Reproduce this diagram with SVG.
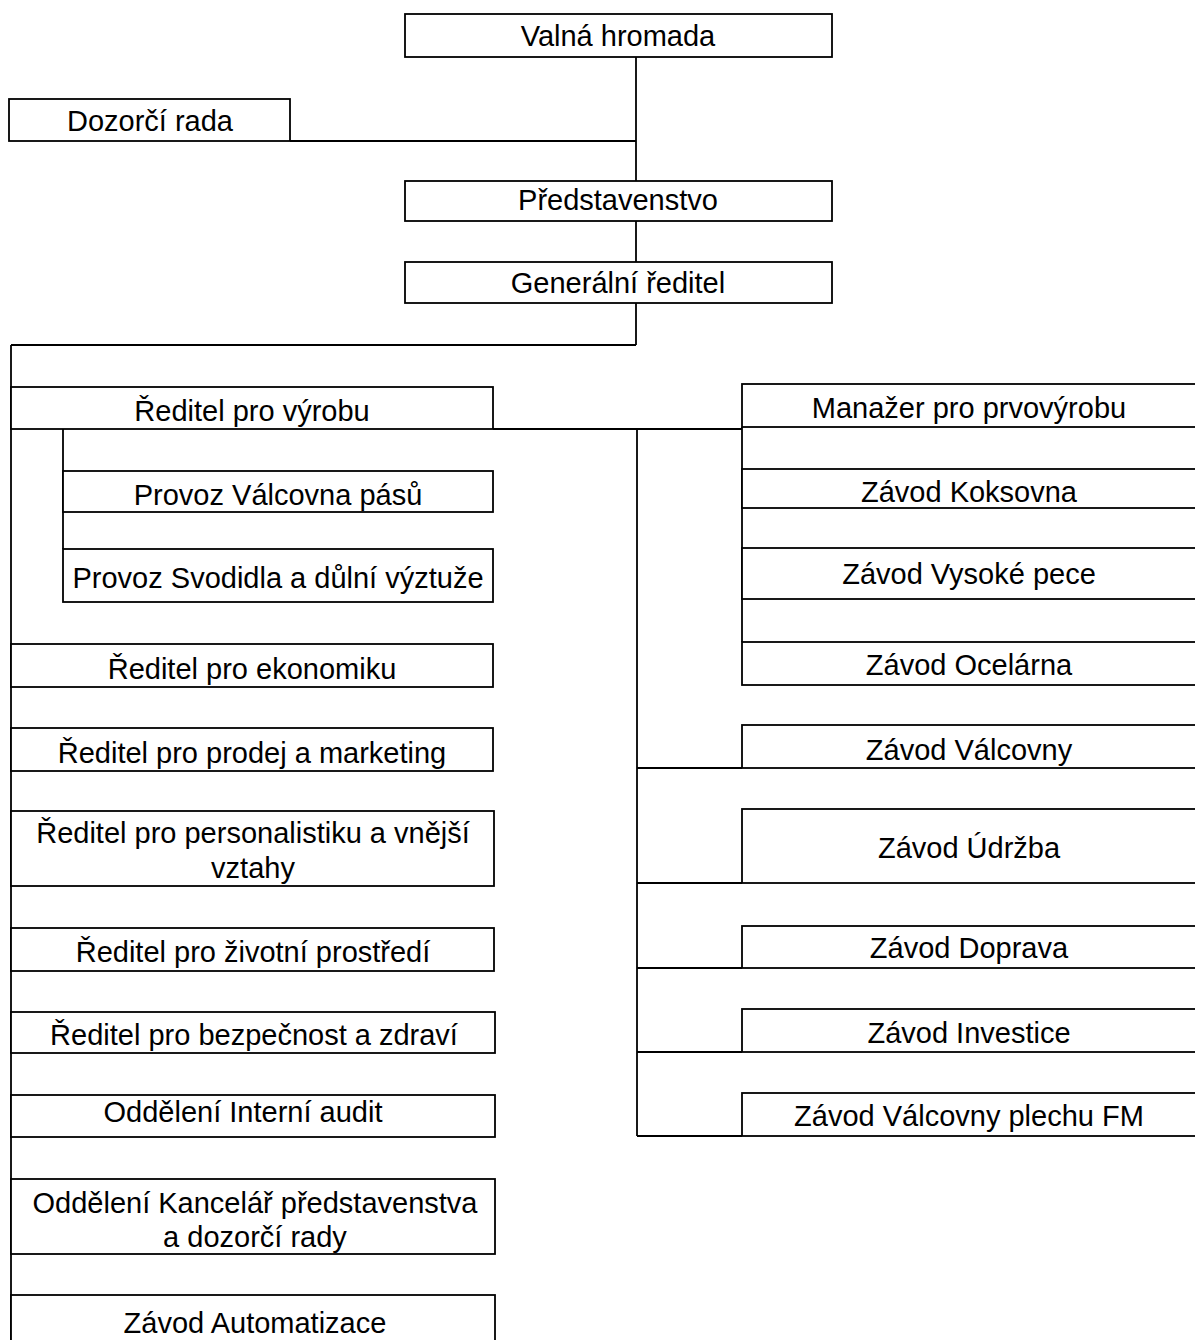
<svg xmlns="http://www.w3.org/2000/svg" width="1195" height="1340" viewBox="0 0 1195 1340">
<style>
.box{fill:#fff;stroke:#000;stroke-width:1.8}
.ln{stroke:#000;stroke-width:1.8;fill:none}
text{font-family:"Liberation Sans",Arial,sans-serif;font-size:29px;fill:#000;text-anchor:middle}
</style>
<rect width="1195" height="1340" fill="#fff"/>
<g id="connectors">
<line class="ln" x1="636" y1="57" x2="636" y2="181"/>
<line class="ln" x1="290" y1="141" x2="636" y2="141"/>
<line class="ln" x1="636" y1="221" x2="636" y2="262"/>
<line class="ln" x1="636" y1="303" x2="636" y2="345"/>
<line class="ln" x1="11" y1="345" x2="636" y2="345"/>
<line class="ln" x1="11" y1="345" x2="11" y2="1345"/>
<line class="ln" x1="493" y1="429" x2="742" y2="429"/>
<line class="ln" x1="63" y1="429" x2="63" y2="549"/>
<line class="ln" x1="637" y1="429" x2="637" y2="1136"/>
<line class="ln" x1="742" y1="427" x2="742" y2="642"/>
<line class="ln" x1="637" y1="768" x2="742" y2="768"/>
<line class="ln" x1="637" y1="883" x2="742" y2="883"/>
<line class="ln" x1="637" y1="968" x2="742" y2="968"/>
<line class="ln" x1="637" y1="1052" x2="742" y2="1052"/>
<line class="ln" x1="637" y1="1136" x2="742" y2="1136"/>
</g>
<g id="valna-hromada"><rect class="box" x="405" y="14" width="427" height="43"/><text x="618" y="46">Valná hromada</text></g>
<g id="dozorci-rada"><rect class="box" x="9" y="99" width="281" height="42"/><text x="150" y="131">Dozorčí rada</text></g>
<g id="predstavenstvo"><rect class="box" x="405" y="181" width="427" height="40"/><text x="618" y="210">Představenstvo</text></g>
<g id="generalni-reditel"><rect class="box" x="405" y="262" width="427" height="41"/><text x="618" y="293">Generální ředitel</text></g>
<g id="reditel-vyroba"><rect class="box" x="11" y="387" width="482" height="42"/><text x="252" y="421">Ředitel pro výrobu</text></g>
<g id="provoz-valcovna-pasu"><rect class="box" x="63" y="471" width="430" height="41"/><text x="278" y="505">Provoz Válcovna pásů</text></g>
<g id="provoz-svodidla"><rect class="box" x="63" y="549" width="430" height="53"/><text x="278" y="588">Provoz Svodidla a důlní výztuže</text></g>
<g id="reditel-ekonomika"><rect class="box" x="11" y="644" width="482" height="43"/><text x="252" y="679">Ředitel pro ekonomiku</text></g>
<g id="reditel-prodej"><rect class="box" x="11" y="728" width="482" height="43"/><text x="252" y="763">Ředitel pro prodej a marketing</text></g>
<g id="reditel-personalistika"><rect class="box" x="11" y="811" width="483" height="75"/><text x="253" y="843">Ředitel pro personalistiku a vnější</text><text x="253" y="878">vztahy</text></g>
<g id="reditel-zivotni"><rect class="box" x="11" y="928" width="483" height="43"/><text x="253" y="962">Ředitel pro životní prostředí</text></g>
<g id="reditel-bezpecnost"><rect class="box" x="11" y="1012" width="484" height="41"/><text x="254" y="1045">Ředitel pro bezpečnost a zdraví</text></g>
<g id="interni-audit"><rect class="box" x="11" y="1095" width="484" height="42"/><text x="243" y="1122">Oddělení Interní audit</text></g>
<g id="kancelar"><rect class="box" x="11" y="1179" width="484" height="75"/><text x="255" y="1213">Oddělení Kancelář představenstva</text><text x="255" y="1247">a dozorčí rady</text></g>
<g id="zavod-automatizace"><rect class="box" x="11" y="1295" width="484" height="60"/><text x="255" y="1333">Závod Automatizace</text></g>
<g id="manazer-prvovyroba"><rect class="box" x="742" y="384" width="460" height="43"/><text x="969" y="418">Manažer pro prvovýrobu</text></g>
<g id="zavod-koksovna"><rect class="box" x="742" y="469" width="460" height="39"/><text x="969" y="502">Závod Koksovna</text></g>
<g id="zavod-vysoke-pece"><rect class="box" x="742" y="548" width="460" height="51"/><text x="969" y="584">Závod Vysoké pece</text></g>
<g id="zavod-ocelarna"><rect class="box" x="742" y="642" width="460" height="43"/><text x="969" y="675">Závod Ocelárna</text></g>
<g id="zavod-valcovny"><rect class="box" x="742" y="725" width="460" height="43"/><text x="969" y="760">Závod Válcovny</text></g>
<g id="zavod-udrzba"><rect class="box" x="742" y="809" width="460" height="74"/><text x="969" y="858">Závod Údržba</text></g>
<g id="zavod-doprava"><rect class="box" x="742" y="926" width="460" height="42"/><text x="969" y="958">Závod Doprava</text></g>
<g id="zavod-investice"><rect class="box" x="742" y="1009" width="460" height="43"/><text x="969" y="1043">Závod Investice</text></g>
<g id="zavod-valcovny-plechu"><rect class="box" x="742" y="1093" width="460" height="43"/><text x="969" y="1126">Závod Válcovny plechu FM</text></g>
</svg>
